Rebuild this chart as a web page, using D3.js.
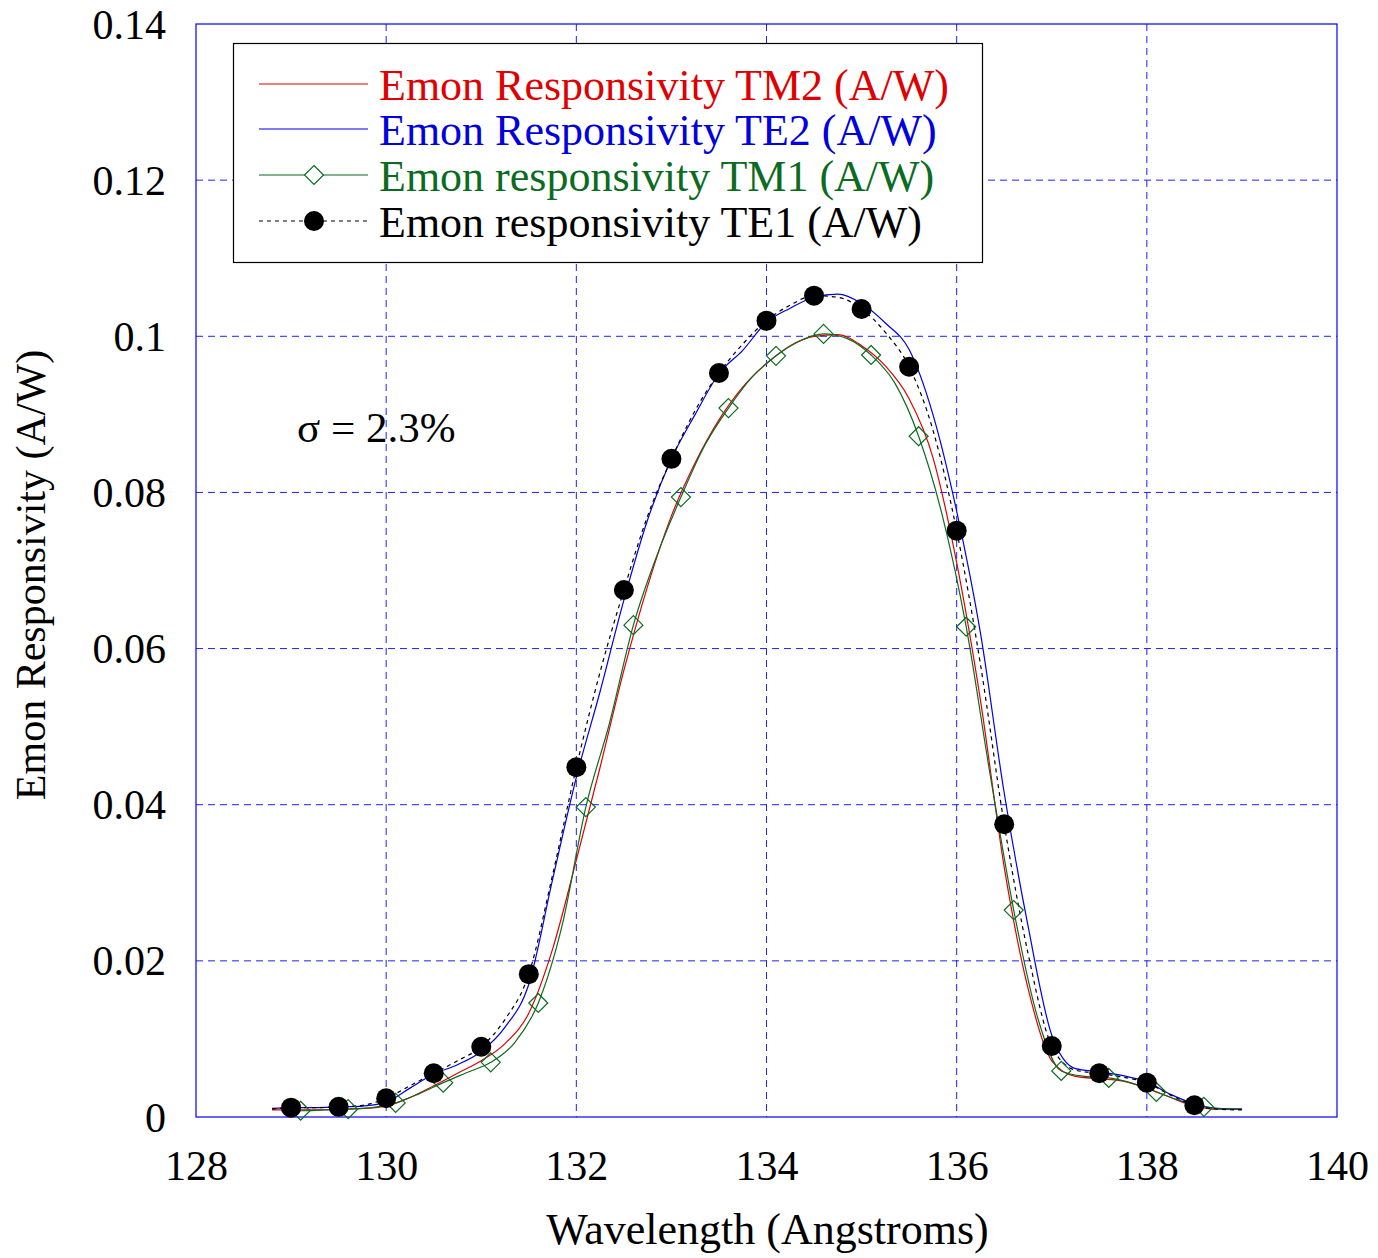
<!DOCTYPE html>
<html>
<head>
<meta charset="utf-8">
<script src="https://cdn.jsdelivr.net/npm/d3@7"></script>
<style>
  html, body { margin: 0; padding: 0; background: #fff; }
  svg { display: block; }
  text { font-family: "Liberation Serif", "Times New Roman", serif; }
</style>
</head>
<body>
<svg id="chart" width="1378" height="1258"></svg>
<script>
// ---- Data ----
const xTicks = [128, 130, 132, 134, 136, 138, 140];
const yTicks = [0, 0.02, 0.04, 0.06, 0.08, 0.1, 0.12, 0.14];
const yTickLabels = ["0", "0.02", "0.04", "0.06", "0.08", "0.1", "0.12", "0.14"];

// Emon Responsivity TM2 (red) and TE2 (blue) share this wavelength grid
const wl2 = [128.8, 129.0, 129.25, 129.5, 129.75, 130.0, 130.25, 130.5, 130.75, 131.0,
  131.25, 131.5, 131.75, 132.0, 132.25, 132.5, 132.75, 133.0, 133.25, 133.5,
  133.75, 134.0, 134.25, 134.5, 134.75, 135.0, 135.25, 135.5, 135.75, 136.0,
  136.25, 136.5, 136.75, 137.0, 137.25, 137.5, 137.75, 138.0, 138.25, 138.5,
  138.75, 139.0];
const tm2 = [0.0009, 0.0009, 0.0009, 0.0010, 0.0011, 0.0014, 0.0025, 0.0040, 0.0056, 0.0072,
  0.0094, 0.0133, 0.0215, 0.0329, 0.0448, 0.0572, 0.0680, 0.0770, 0.0838, 0.0893,
  0.0935, 0.0965, 0.0988, 0.1000, 0.1002, 0.0988, 0.0962, 0.0920, 0.0845, 0.0710,
  0.0534, 0.0320, 0.0165, 0.0072, 0.0052, 0.0049, 0.0046, 0.0037, 0.0025, 0.0014,
  0.0010, 0.0010];
const te2 = [0.0011, 0.0012, 0.0012, 0.0013, 0.0014, 0.0019, 0.0037, 0.0055, 0.0067, 0.0084,
  0.0115, 0.0170, 0.0304, 0.0435, 0.0545, 0.0662, 0.0765, 0.0843, 0.0900, 0.0952,
  0.0982, 0.1018, 0.1036, 0.1050, 0.1054, 0.1042, 0.1017, 0.0983, 0.0900, 0.0776,
  0.0620, 0.0415, 0.0245, 0.0105, 0.0062, 0.0058, 0.0053, 0.0045, 0.0029, 0.0017,
  0.0011, 0.0010];

// Emon responsivity TM1 (green, diamonds)
const wlTM1 = [128.9, 129.1, 129.35, 129.6, 129.85, 130.1, 130.35, 130.6, 130.85, 131.1,
  131.35, 131.6, 131.85, 132.1, 132.35, 132.6, 132.85, 133.1, 133.35, 133.6,
  133.85, 134.1, 134.35, 134.6, 134.85, 135.1, 135.35, 135.6, 135.85, 136.1,
  136.35, 136.6, 136.85, 137.1, 137.35, 137.6, 137.85, 138.1, 138.35, 138.6,
  138.85, 139.0];
const tm1 = [0.0008, 0.0008, 0.0009, 0.0010, 0.0012, 0.0018, 0.0030, 0.0044, 0.0057, 0.0070,
  0.0095, 0.0146, 0.0245, 0.0397, 0.0505, 0.0630, 0.0720, 0.0794, 0.0860, 0.0908,
  0.0948, 0.0975, 0.0994, 0.1003, 0.0997, 0.0976, 0.0940, 0.0872, 0.0770, 0.0628,
  0.0440, 0.0265, 0.0128, 0.0059, 0.0052, 0.0050, 0.0043, 0.0032, 0.0021, 0.0013,
  0.0010, 0.0010];
const tm1Markers = [129.1, 129.6, 130.1, 130.6, 131.1, 131.6, 132.1, 132.6, 133.1, 133.6,
  134.1, 134.6, 135.1, 135.6, 136.1, 136.6, 137.1, 137.6, 138.1, 138.6];

// Emon responsivity TE1 (black dashed, filled circles)
const wlTE1 = [128.8, 129.0, 129.25, 129.5, 129.75, 130.0, 130.25, 130.5, 130.75, 131.0,
  131.25, 131.5, 131.75, 132.0, 132.25, 132.5, 132.75, 133.0, 133.25, 133.5,
  133.75, 134.0, 134.25, 134.5, 134.75, 135.0, 135.25, 135.5, 135.75, 136.0,
  136.25, 136.5, 136.75, 137.0, 137.25, 137.5, 137.75, 138.0, 138.25, 138.5,
  138.75, 139.0];
const te1 = [0.0010, 0.0012, 0.0012, 0.0013, 0.0015, 0.0024, 0.0040, 0.0056, 0.0072, 0.0090,
  0.0125, 0.0183, 0.0310, 0.0448, 0.0570, 0.0675, 0.0770, 0.0843, 0.0905, 0.0953,
  0.0990, 0.1020, 0.1040, 0.1052, 0.1050, 0.1035, 0.1005, 0.0961, 0.0880, 0.0751,
  0.0580, 0.0375, 0.0210, 0.0091, 0.0060, 0.0056, 0.0051, 0.0044, 0.0028, 0.0015,
  0.0010, 0.0009];
const te1Markers = [129.0, 129.5, 130.0, 130.5, 131.0, 131.5, 132.0, 132.5, 133.0, 133.5,
  134.0, 134.5, 135.0, 135.5, 136.0, 136.5, 137.0, 137.5, 138.0, 138.5];

const legendLabels = [
  "Emon Responsivity TM2 (A/W)",
  "Emon Responsivity TE2 (A/W)",
  "Emon responsivity TM1 (A/W)",
  "Emon responsivity TE1 (A/W)"
];

// ---- Chart ----
const svg = d3.select("#chart");
const L = 196, R = 1337, T = 24, B = 1117;
const x = d3.scaleLinear().domain([128, 140]).range([L, R]);
const y = d3.scaleLinear().domain([0, 0.14]).range([B, T]);
const gridColor = "#1f1fff";
const RED = "#e00000", BLUE = "#0000e0", GREEN = "#0b6b1f", BLACK = "#000";
const FONT = '"Liberation Serif", "Times New Roman", serif';

// grid
const grid = svg.append("g");
grid.selectAll("line.vx").data(xTicks.filter(t => t > 128 && t < 140)).enter()
  .append("line")
  .attr("x1", d => x(d)).attr("x2", d => x(d)).attr("y1", T).attr("y2", B)
  .attr("stroke", gridColor).attr("stroke-width", 1).attr("stroke-dasharray", "7,5");
grid.selectAll("line.hy").data(yTicks.filter(t => t > 0 && t < 0.14)).enter()
  .append("line")
  .attr("y1", d => y(d)).attr("y2", d => y(d)).attr("x1", L).attr("x2", R)
  .attr("stroke", gridColor).attr("stroke-width", 1).attr("stroke-dasharray", "7,5");

// frame
svg.append("rect").attr("x", L).attr("y", T).attr("width", R - L).attr("height", B - T)
  .attr("fill", "none").attr("stroke", "#0000ff").attr("stroke-width", 1.2);

// axes (labels only, via d3 axes)
const xAxis = d3.axisBottom(x).tickValues(xTicks).tickSize(0).tickPadding(0).tickFormat(d3.format("d"));
const gx = svg.append("g").attr("transform", `translate(0,${B})`).call(xAxis);
gx.select(".domain").remove();
gx.selectAll("text").attr("font-family", FONT).attr("font-size", 42).attr("fill", "#000")
  .attr("dy", null).attr("y", 63);

const yAxis = d3.axisLeft(y).tickValues(yTicks).tickSize(0).tickPadding(0)
  .tickFormat((d, i) => yTickLabels[i]);
const gy = svg.append("g").attr("transform", `translate(${L},0)`).call(yAxis);
gy.select(".domain").remove();
gy.selectAll("text").attr("font-family", FONT).attr("font-size", 42).attr("fill", "#000")
  .attr("dy", null).attr("x", -30).attr("y", 14);

// axis titles
svg.append("text").attr("x", (L + R) / 2 + 1).attr("y", 1244).attr("text-anchor", "middle")
  .attr("font-size", 44).attr("font-family", FONT).text("Wavelength (Angstroms)");
svg.append("text").attr("transform", "translate(45,575) rotate(-90)").attr("text-anchor", "middle")
  .attr("font-size", 42).attr("font-family", FONT).text("Emon Responsivity (A/W)");

// sigma annotation
svg.append("text").attr("x", 297).attr("y", 442).attr("font-size", 43)
  .attr("font-family", FONT).text("σ = 2.3%");

// lines
const lineGen = d3.line().x(d => x(d[0])).y(d => y(d[1])).curve(d3.curveMonotoneX);
const zip = (a, b) => a.map((v, i) => [v, b[i]]);
const plot = svg.append("g");
plot.append("path").datum(zip(wl2, tm2)).attr("d", lineGen)
  .attr("fill", "none").attr("stroke", RED).attr("stroke-width", 1.2);
plot.append("path").datum(zip(wl2, te2)).attr("d", lineGen)
  .attr("fill", "none").attr("stroke", BLUE).attr("stroke-width", 1.2);
plot.append("path").datum(zip(wlTM1, tm1)).attr("d", lineGen)
  .attr("fill", "none").attr("stroke", GREEN).attr("stroke-width", 1.2);
plot.append("path").datum(zip(wlTE1, te1)).attr("d", lineGen)
  .attr("fill", "none").attr("stroke", BLACK).attr("stroke-width", 1.2)
  .attr("stroke-dasharray", "4,4");

// markers
const lookup = (xs, ys, v) => ys[xs.findIndex(w => Math.abs(w - v) < 1e-6)];
const diamond = (cx, cy, r) => `M${cx},${cy - r}L${cx + r},${cy}L${cx},${cy + r}L${cx - r},${cy}Z`;
plot.selectAll("path.dm").data(tm1Markers).enter().append("path")
  .attr("d", d => diamond(x(d), y(lookup(wlTM1, tm1, d)), 9.5))
  .attr("fill", "none").attr("stroke", GREEN).attr("stroke-width", 1.2);
plot.selectAll("circle.te1").data(te1Markers).enter().append("circle")
  .attr("cx", d => x(d)).attr("cy", d => y(lookup(wlTE1, te1, d))).attr("r", 10)
  .attr("fill", BLACK);

// legend
const lg = svg.append("g");
lg.append("rect").attr("x", 233.5).attr("y", 43.5).attr("width", 749).attr("height", 219)
  .attr("fill", "#fff").attr("stroke", "#000").attr("stroke-width", 1.2);
const legColors = [RED, BLUE, GREEN, BLACK];
const rowY = [84, 129, 175, 221];
legendLabels.forEach((lab, i) => {
  const ly = rowY[i];
  const ln = lg.append("line").attr("x1", 259).attr("x2", 368).attr("y1", ly).attr("y2", ly)
    .attr("stroke", legColors[i]).attr("stroke-width", 1.2);
  if (i === 3) ln.attr("stroke-dasharray", "4,4");
  if (i === 2) lg.append("path").attr("d", diamond(314, ly, 9.5)).attr("fill", "#fff")
    .attr("stroke", GREEN).attr("stroke-width", 1.2);
  if (i === 3) lg.append("circle").attr("cx", 314).attr("cy", ly).attr("r", 10).attr("fill", BLACK);
  lg.append("text").attr("x", 379).attr("y", ly + 16).attr("font-size", 44)
    .attr("font-family", FONT).attr("fill", legColors[i]).text(lab);
});
</script>
</body>
</html>
